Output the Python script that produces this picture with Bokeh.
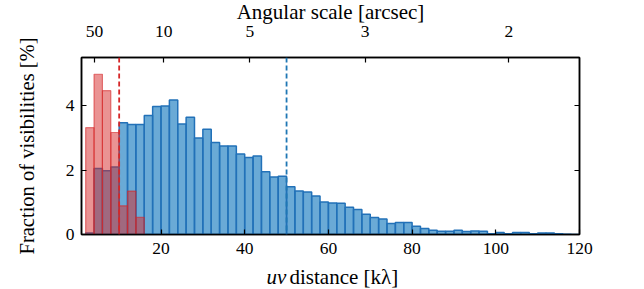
import numpy as np
from bokeh.plotting import figure
from bokeh.layouts import column
from bokeh.models import (Range1d, LinearAxis, FixedTicker, CustomJSTickFormatter,
                          Span, Label)
from bokeh.embed import file_html
from bokeh.resources import INLINE

# ---------------- data ----------------
bin_start = 2.0          # k-lambda, first bin edge
bin_width = 2.0          # k-lambda
blue_pct = [0.05, 2.05, 1.98, 2.10, 3.47, 3.42, 3.42, 3.70, 3.98, 3.99,
            4.18, 3.43, 3.64, 3.00, 3.27, 2.86, 2.75, 2.75, 2.50, 2.39,
            2.44, 1.95, 1.79, 1.81, 1.48, 1.35, 1.32, 1.20, 1.01, 0.98,
            0.97, 0.85, 0.78, 0.63, 0.53, 0.48, 0.34, 0.37, 0.37, 0.26,
            0.19, 0.13, 0.10, 0.10, 0.13, 0.09, 0.11, 0.10, 0.02, 0.06,
            0.02, 0.06, 0.06, 0.02, 0.05, 0.05, 0.02, 0.01, 0.0]
red_pct = [3.32, 4.98, 4.47, 3.17, 0.89, 1.35, 0.53]
red_cut = 10     # k-lambda
blue_cut = 50    # k-lambda
x_ticks = [20, 40, 60, 80, 100, 120]
y_ticks = [0, 2, 4]
angular_ticks = [50, 10, 5, 3, 2]          # arcsec
ARCSEC_KLAMBDA = 206.265                    # theta[arcsec] = 206.265 / uv[k-lambda]

FONT = "serif"
TICK_SIZE = "17.5px"
LABEL_SIZE = "21px"

blue_left = bin_start + bin_width * np.arange(len(blue_pct))
red_left = bin_start + bin_width * np.arange(len(red_pct))
top_tick_pos = [ARCSEC_KLAMBDA / a for a in angular_ticks]

W = 644
H_MAIN = 261
H_XLAB = 289 - H_MAIN

p = figure(width=W, height=H_MAIN, output_backend="svg", toolbar_location=None,
           title="Angular scale [arcsec]",
           x_range=Range1d(1, 120), y_range=Range1d(0, 5.5),
           min_border_left=81, min_border_right=65,
           min_border_top=57, min_border_bottom=27)
p.background_fill_color = "white"
p.border_fill_color = "white"
p.outline_line_color = "black"
p.outline_line_width = 1.5
p.xgrid.visible = False
p.ygrid.visible = False

p.title.align = "center"
p.title.vertical_align = "top"
p.title.text_font = FONT
p.title.text_font_size = LABEL_SIZE
p.title.text_font_style = "normal"
p.title.text_color = "black"
p.title.standoff = -6

p.quad(left=blue_left, right=blue_left + bin_width, bottom=0, top=blue_pct,
       fill_color="#2b86c4", fill_alpha=0.7, line_color="#2271b8", line_width=1.5)
p.quad(left=red_left, right=red_left + bin_width, bottom=0, top=red_pct,
       fill_color="#d62728", fill_alpha=0.5, line_color="#d62728", line_alpha=0.6,
       line_width=1.2)

p.add_layout(Span(location=red_cut, dimension="height", line_color="#d62728",
                  line_width=1.8, line_dash="5 3"))
p.add_layout(Span(location=blue_cut, dimension="height", line_color="#1f77b4",
                  line_width=1.8, line_dash="5 3"))


def style_axis(ax):
    ax.axis_line_color = "black"
    ax.axis_line_width = 1.5
    ax.major_tick_in = 5
    ax.major_tick_out = 0
    ax.major_tick_line_width = 1.2
    ax.minor_tick_line_color = None
    ax.major_label_text_font = FONT
    ax.major_label_text_font_size = TICK_SIZE
    ax.major_label_text_color = "black"
    ax.axis_label_text_font = FONT
    ax.axis_label_text_font_size = "20.5px"
    ax.axis_label_text_font_style = "normal"
    ax.axis_label_text_color = "black"


xa = p.xaxis[0]
style_axis(xa)
xa.ticker = FixedTicker(ticks=x_ticks)
xa.major_label_standoff = 8

ya = p.yaxis[0]
style_axis(ya)
ya.ticker = FixedTicker(ticks=y_ticks)
ya.major_label_standoff = 7
ya.axis_label = "Fraction of visibilities [%]"
ya.axis_label_standoff = 25

top = LinearAxis(ticker=FixedTicker(ticks=top_tick_pos),
                 formatter=CustomJSTickFormatter(code="return (206.265 / tick).toFixed(0);"))
style_axis(top)
top.major_label_standoff = 21
p.add_layout(top, "above")

right = LinearAxis(ticker=FixedTicker(ticks=y_ticks),
                   formatter=CustomJSTickFormatter(code="return '';"))
style_axis(right)
right.major_label_standoff = 0
p.add_layout(right, "right")

# x-axis title (italic "uv") in a thin strip below the plot
q = figure(width=W, height=H_XLAB, output_backend="svg", toolbar_location=None,
           x_range=Range1d(0, W), y_range=Range1d(0, H_XLAB),
           x_axis_type=None, y_axis_type=None, min_border=0)
q.outline_line_color = None
q.xgrid.visible = False
q.ygrid.visible = False
q.add_layout(Label(x=265, y=13, text="uv",
                   text_font=FONT, text_font_size=LABEL_SIZE,
                   text_font_style="italic", text_align="right",
                   text_baseline="alphabetic", text_color="black"))
q.add_layout(Label(x=269, y=13, text="distance [kλ]",
                   text_font=FONT, text_font_size=LABEL_SIZE,
                   text_align="left", text_baseline="alphabetic", text_color="black"))

layout = column(p, q, spacing=0)
open("out.html", "w").write(file_html(layout, INLINE))
